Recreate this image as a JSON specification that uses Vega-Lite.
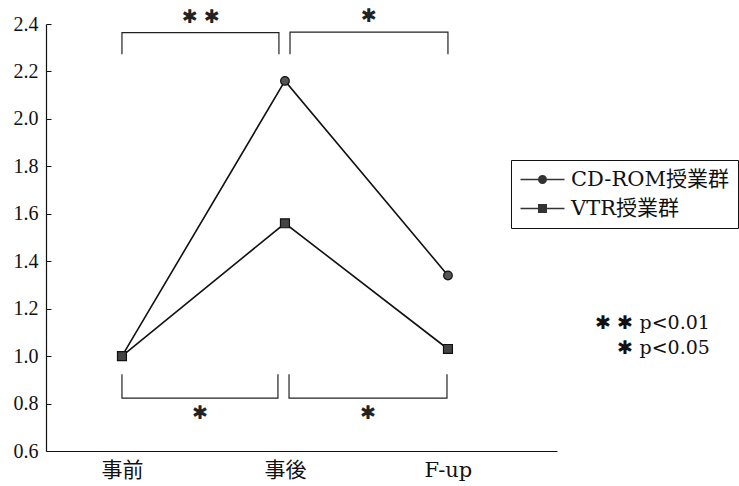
{
  "$schema": "https://vega.github.io/schema/vega-lite/v6.json",
  "width": 511,
  "height": 427,
  "autosize": {"type": "none"},
  "padding": {"left": 46, "top": 24, "right": 182, "bottom": 35},
  "background": "white",
  "config": {
    "view": {"stroke": null},
    "font": "Liberation Serif, Times New Roman, serif",
    "axis": {"domainColor": "#111", "tickColor": "#111", "labelColor": "#111", "grid": false, "title": null}
  },
  "datasets": {
    "scores": [
      {"group": "CD-ROM授業群", "phase": "事前", "x": 0, "y": 1.0},
      {"group": "CD-ROM授業群", "phase": "事後", "x": 1, "y": 2.16},
      {"group": "CD-ROM授業群", "phase": "F-up", "x": 2, "y": 1.34},
      {"group": "VTR授業群", "phase": "事前", "x": 0, "y": 1.0},
      {"group": "VTR授業群", "phase": "事後", "x": 1, "y": 1.56},
      {"group": "VTR授業群", "phase": "F-up", "x": 2, "y": 1.03}
    ],
    "brackets": [
      {"id": "top1", "seq": 1, "x": 0, "y": 2.273},
      {"id": "top1", "seq": 2, "x": 0, "y": 2.364},
      {"id": "top1", "seq": 3, "x": 0.963, "y": 2.364},
      {"id": "top1", "seq": 4, "x": 0.963, "y": 2.273},
      {"id": "top2", "seq": 1, "x": 1.031, "y": 2.273},
      {"id": "top2", "seq": 2, "x": 1.031, "y": 2.366},
      {"id": "top2", "seq": 3, "x": 2.0, "y": 2.366},
      {"id": "top2", "seq": 4, "x": 2.0, "y": 2.273},
      {"id": "bot1", "seq": 1, "x": 0, "y": 0.924},
      {"id": "bot1", "seq": 2, "x": 0, "y": 0.823},
      {"id": "bot1", "seq": 3, "x": 0.957, "y": 0.823},
      {"id": "bot1", "seq": 4, "x": 0.957, "y": 0.924},
      {"id": "bot2", "seq": 1, "x": 1.025, "y": 0.924},
      {"id": "bot2", "seq": 2, "x": 1.025, "y": 0.823},
      {"id": "bot2", "seq": 3, "x": 1.994, "y": 0.823},
      {"id": "bot2", "seq": 4, "x": 1.994, "y": 0.924}
    ],
    "stars": [
      {"x": 0.485, "y": 2.428, "label": "✱ ✱"},
      {"x": 1.515, "y": 2.434, "label": "✱"},
      {"x": 0.48, "y": 0.76, "label": "✱"},
      {"x": 1.51, "y": 0.76, "label": "✱"}
    ],
    "notes": [
      {"x": 3.607, "y": 1.139, "label": "✱ ✱ p<0.01"},
      {"x": 3.607, "y": 1.034, "label": "✱ p<0.05"}
    ]
  },
  "encoding": {
    "x": {
      "field": "x",
      "type": "quantitative",
      "scale": {"domain": [-0.466, 2.669], "nice": false, "zero": false},
      "axis": {
        "values": [0, 1, 2],
        "labelExpr": "datum.value === 0 ? '事前' : datum.value === 1 ? '事後' : 'F-up'",
        "ticks": false,
        "labelFlush": false,
        "labelOverlap": false,
        "labelPadding": 8,
        "labelFont": "DejaVu Serif, Noto Sans CJK JP, serif",
        "labelFontSize": 21,
        "domainWidth": 1.2
      }
    },
    "y": {
      "field": "y",
      "type": "quantitative",
      "scale": {"domain": [0.6, 2.4], "nice": false, "zero": false},
      "axis": {
        "values": [0.6, 0.8, 1.0, 1.2, 1.4, 1.6, 1.8, 2.0, 2.2, 2.4],
        "format": ".1f",
        "tickSize": -5,
        "labelPadding": 13,
        "labelFont": "Liberation Serif, Times New Roman, serif",
        "labelFontSize": 20,
        "domainWidth": 1.2
      }
    }
  },
  "layer": [
    {
      "data": {"name": "brackets"},
      "mark": {"type": "line", "color": "#222", "strokeWidth": 1.2, "clip": false},
      "encoding": {
        "detail": {"field": "id"},
        "order": {"field": "seq", "type": "quantitative"}
      }
    },
    {
      "data": {"name": "scores"},
      "mark": {"type": "line", "color": "#111", "strokeWidth": 1.6},
      "encoding": {
        "detail": {"field": "group"},
        "order": {"field": "x", "type": "quantitative"}
      }
    },
    {
      "data": {"name": "scores"},
      "transform": [{"filter": "datum.group === 'CD-ROM授業群'"}],
      "mark": {"type": "point", "shape": "circle", "filled": true, "fill": "#555", "stroke": "#111", "strokeWidth": 1.2, "opacity": 1, "size": 75}
    },
    {
      "data": {"name": "scores"},
      "transform": [{"filter": "datum.group === 'VTR授業群'"}],
      "mark": {"type": "point", "shape": "square", "filled": true, "fill": "#444", "stroke": "#111", "strokeWidth": 1.2, "opacity": 1, "size": 80}
    },
    {
      "data": {"name": "scores"},
      "mark": {"type": "point", "filled": true, "fill": "#333", "opacity": 0, "size": 400},
      "encoding": {
        "shape": {
          "field": "group",
          "type": "nominal",
          "scale": {
            "domain": ["CD-ROM授業群", "VTR授業群"],
            "range": [
              "M-2.2,-0.07L-0.4,-0.07L-0.4,0.07L-2.2,0.07ZM0.4,-0.07L2.2,-0.07L2.2,0.07L0.4,0.07ZM-0.45,0A0.45,0.45,0,1,1,0.45,0A0.45,0.45,0,1,1,-0.45,0Z",
              "M-2.2,-0.07L-0.4,-0.07L-0.4,0.07L-2.2,0.07ZM0.4,-0.07L2.2,-0.07L2.2,0.07L0.4,0.07ZM-0.45,-0.45L0.45,-0.45L0.45,0.45L-0.45,0.45Z"
            ]
          },
          "legend": {
            "title": null,
            "orient": "none",
            "legendX": 465,
            "legendY": 136,
            "padding": 9,
            "strokeColor": "#111",
            "fillColor": "white",
            "symbolSize": 400,
            "symbolOpacity": 1,
            "symbolFillColor": "#333",
            "symbolStrokeWidth": 0,
            "symbolOffset": 12,
            "labelOffset": 18,
            "labelFont": "DejaVu Serif, Noto Sans CJK JP, serif",
            "labelFontSize": 21,
            "labelColor": "#111",
            "labelLimit": 300,
            "rowPadding": 7
          }
        }
      }
    },
    {
      "data": {"name": "stars"},
      "mark": {"type": "text", "font": "DejaVu Sans", "fontSize": 19, "color": "#222", "baseline": "middle", "align": "center", "clip": false},
      "encoding": {"text": {"field": "label"}}
    },
    {
      "data": {"name": "notes"},
      "mark": {"type": "text", "font": "DejaVu Serif, serif", "fontSize": 19, "color": "#111", "baseline": "middle", "align": "right", "clip": false},
      "encoding": {"text": {"field": "label"}}
    }
  ]
}
